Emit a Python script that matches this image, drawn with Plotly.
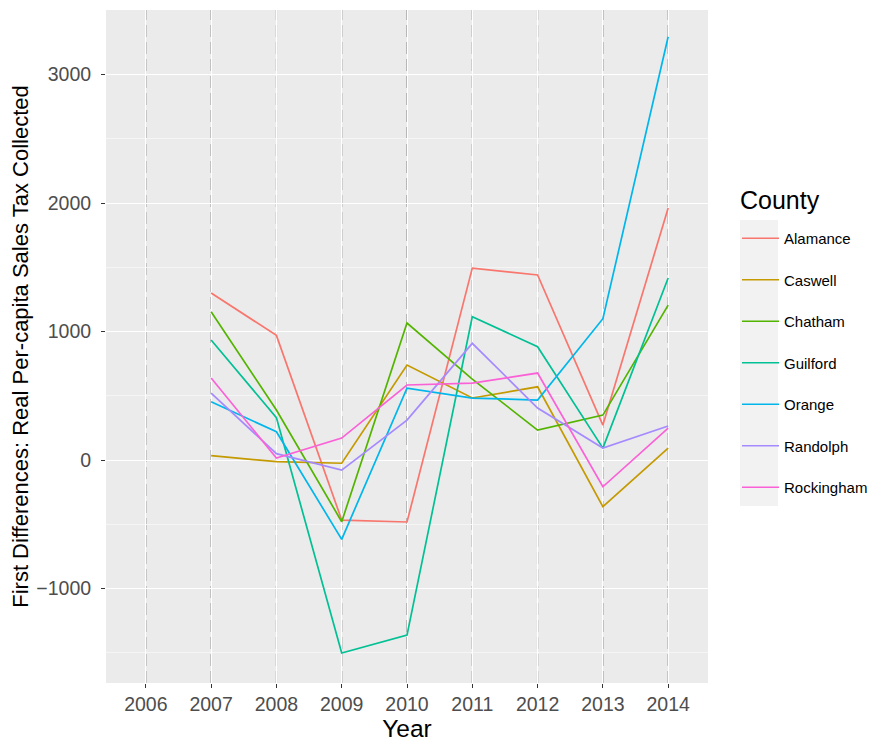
import plotly.graph_objects as go

years = [2007, 2008, 2009, 2010, 2011, 2012, 2013, 2014]
tick_years = [2006, 2007, 2008, 2009, 2010, 2011, 2012, 2013, 2014]

counties = ["Alamance", "Caswell", "Chatham", "Guilford", "Orange", "Randolph", "Rockingham"]
alamance = [1300, 970, -467, -482, 1494, 1440, 272, 1961]
caswell = [34, -13, -25, 739, 483, 570, -363, 93]
chatham = [1154, 389, -480, 1066, 630, 233, 350, 1206]
guilford = [934, 330, -1502, -1362, 1115, 882, 93, 1416]
orange = [454, 220, -617, 560, 482, 467, 1100, 3294]
randolph = [520, 50, -78, 311, 908, 405, 93, 265]
rockingham = [638, 16, 171, 584, 599, 677, -208, 249]
series = [alamance, caswell, chatham, guilford, orange, randolph, rockingham]
colors = ["#F8766D", "#C49A00", "#53B400", "#00C094", "#00B6EB", "#A58AFF", "#FB61D7"]

FONT = "Liberation Sans, Arial, sans-serif"

# The page body has an 8px margin, so the figure is shrunk by that amount.
OFF = 8
W, H = 876 - OFF, 745 - OFF
L, R, T, B = 106 - OFF, 168, 10 - OFF, 62
PW, PH = W - L - R, H - T - B


def px(xp):
    # page pixel x -> paper x
    return (xp - OFF - L) / PW


def py(yp):
    # page pixel y -> paper y
    return (H - B - (yp - OFF)) / PH


fig = go.Figure()
for name, vals, col in zip(counties, series, colors):
    fig.add_trace(go.Scatter(x=years, y=vals, mode="lines", name=name,
                             legendgroup=name,
                             line=dict(color=col, width=1.7)))

for yr in tick_years:
    fig.add_shape(type="line", xref="x", yref="paper", x0=yr, x1=yr, y0=0, y1=1,
                  line=dict(color="#9C9C9C", width=1.3, dash="12px,5px"), layer="between")

# legend key background column
fig.add_shape(type="rect", xref="paper", yref="paper",
              x0=px(740), x1=px(778), y0=py(506), y1=py(220),
              fillcolor="#F2F2F2", line=dict(width=0), layer="below")

fig.add_annotation(text="County", xref="paper", yref="paper",
                   x=px(738), y=py(200), xanchor="left", yanchor="middle",
                   showarrow=False, font=dict(size=25, color="black", family=FONT))

fig.update_layout(
    width=W, height=H,
    margin=dict(l=L, r=R, t=T, b=B, autoexpand=False),
    paper_bgcolor="white",
    plot_bgcolor="#EBEBEB",
    font=dict(family=FONT, color="#4D4D4D"),
    showlegend=True,
    legend=dict(
        font=dict(size=15, color="black", family=FONT),
        x=px(737), xanchor="left", y=py(222), yanchor="top",
        tracegroupgap=19,
        bgcolor="rgba(0,0,0,0)",
        itemwidth=37,
    ),
)
fig.update_xaxes(
    range=[2005.39, 2014.61], automargin=False,
    tickmode="array", tickvals=tick_years, ticktext=[str(y) for y in tick_years],
    showgrid=True, gridcolor="white", gridwidth=1.3,
    zeroline=False, showline=False,
    ticks="outside", ticklen=4, tickcolor="#333333", tickwidth=1,
    tickfont=dict(size=19.5, color="#4D4D4D", family=FONT),
    title=dict(text="Year", font=dict(size=24.5, color="black", family=FONT), standoff=4),
)
fig.update_yaxes(
    range=[-1735, 3502], automargin=False,
    tickmode="array", tickvals=[-1000, 0, 1000, 2000, 3000],
    showgrid=True, gridcolor="white", gridwidth=1.4,
    minor=dict(tickvals=[-1500, -500, 500, 1500, 2500, 3500], showgrid=True,
               gridcolor="#F5F5F5", gridwidth=0.8),
    zeroline=False, showline=False,
    ticks="outside", ticklen=4, tickcolor="#333333", tickwidth=1,
    ticklabelstandoff=6,
    tickfont=dict(size=19.5, color="#4D4D4D", family=FONT),
    title=dict(text="First Differences: Real Per-capita Sales Tax Collected",
               font=dict(size=22, color="black", family=FONT), standoff=2),
)

fig.write_html("out.html")
